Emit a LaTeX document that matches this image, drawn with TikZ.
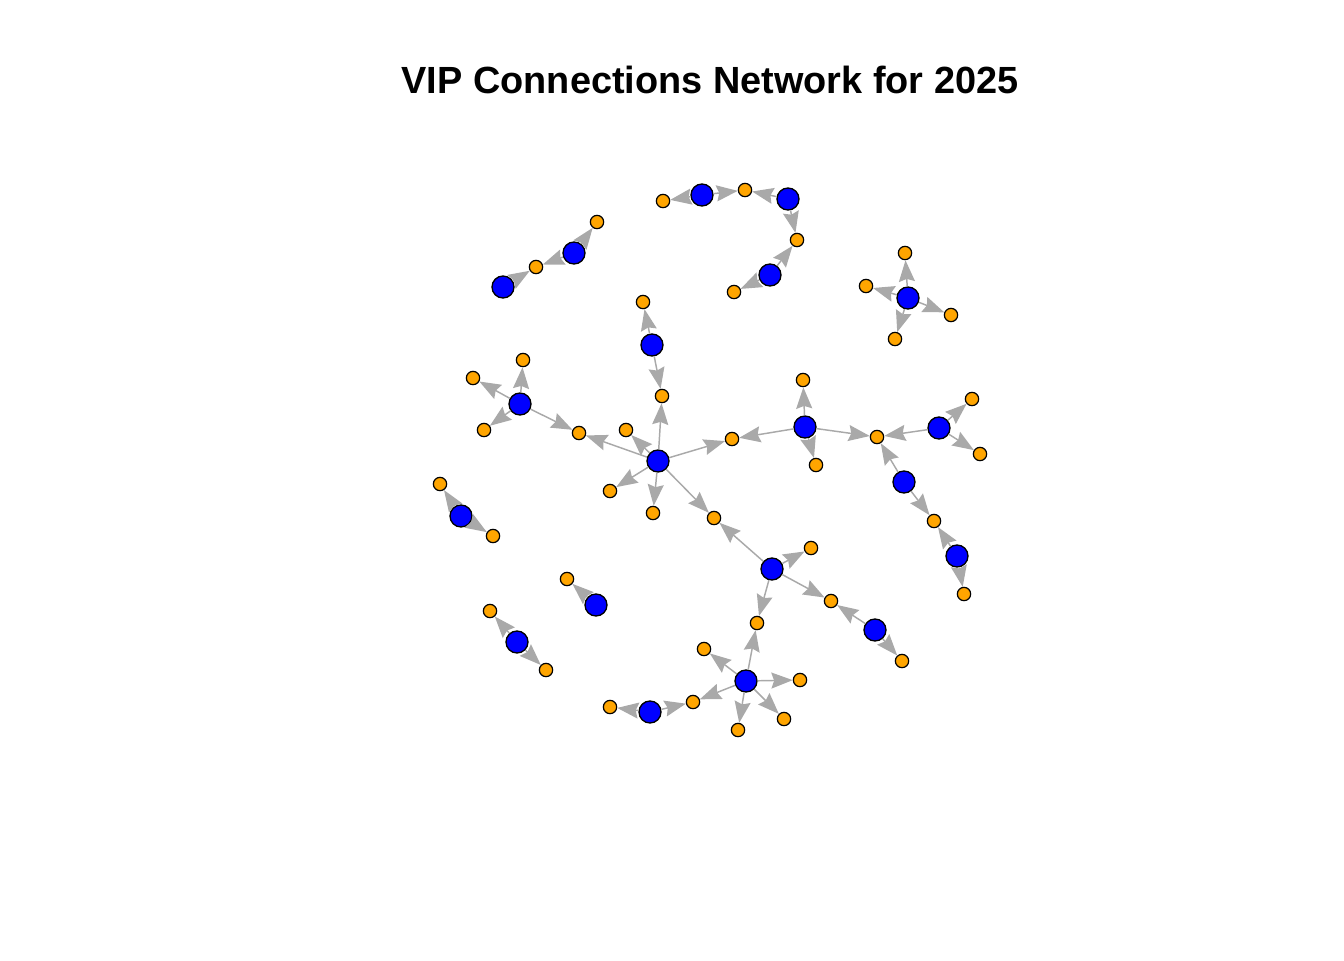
\documentclass[tikz,border=0pt]{standalone}
\usepackage{fontspec}
\setmainfont{Liberation Sans}
\usetikzlibrary{arrows.meta}
\definecolor{vipblue}{RGB}{0,0,255}
\definecolor{contactorange}{RGB}{255,165,0}
\definecolor{linkgray}{RGB}{169,169,169}
\begin{document}
\begin{tikzpicture}[
    x=0.75pt, y=-0.75pt,
    vip/.style={
        circle,
        draw=black,
        fill=vipblue,
        line width=1pt,
        minimum size=16.5pt,
        inner sep=0pt
    },
    contact/.style={
        circle,
        draw=black,
        fill=contactorange,
        line width=0.9pt,
        minimum size=10pt,
        inner sep=0pt
    },
    link/.style={
        draw=linkgray,
        line width=1.1pt,
        -{Stealth[length=16pt, width=12pt, inset=2pt]}
    }
]
    \useasboundingbox (0,0) rectangle (1344,960);
    \node[font=\bfseries\fontsize{28.4}{34}\selectfont] (title) at (710,80) {VIP Connections Network for 2025};

    % VIPs
    \foreach \name/\x/\y in {
        V1/503/287, V2/574/253, V3/702/195, V4/788/199, V5/770/275,
        V6/908/298, V7/652/345, V8/520/404, V9/658/461, V10/805/427,
        V11/939/428, V12/904/482, V13/957/556, V14/461/516, V15/596/605,
        V16/517/642, V17/772/569, V18/875/630, V19/746/681, V20/650/712%
    } {
        \node[vip] (\name) at (\x, \y) {};
    }
    % contacts
    \foreach \name/\x/\y in {
        C1/597/222, C2/536/267, C3/663/201, C4/745/190, C5/797/240,
        C6/734/292, C7/905/253, C8/866/286, C9/951/315, C10/895/339,
        C11/643/302, C12/662/396, C13/523/360, C14/473/378, C15/484/430,
        C16/579/433, C17/626/430, C18/732/439, C19/803/380, C20/816/465,
        C21/877/437, C22/972/399, C23/980/454, C24/934/521, C25/964/594,
        C26/440/484, C27/493/536, C28/610/491, C29/653/513, C30/714/518,
        C31/811/548, C32/567/579, C33/490/611, C34/546/670, C35/831/601,
        C36/757/623, C37/902/661, C38/704/649, C39/800/680, C40/610/707,
        C41/693/702, C42/738/730, C43/784/719%
    } {
        \node[contact] (\name) at (\x, \y) {};
    }
    % links
    \foreach \u/\v in {
        V1/C2, V2/C2, V2/C1, V3/C3, V3/C4, V4/C4, V4/C5, V5/C5, V5/C6,
        V6/C7, V6/C8, V6/C9, V6/C10, V7/C11, V7/C12,
        V8/C13, V8/C14, V8/C15, V8/C16,
        V9/C12, V9/C16, V9/C17, V9/C18, V9/C28, V9/C29, V9/C30,
        V10/C18, V10/C19, V10/C20, V10/C21,
        V11/C21, V11/C22, V11/C23, V12/C21, V12/C24, V13/C24, V13/C25,
        V14/C26, V14/C27, V15/C32, V16/C33, V16/C34,
        V17/C30, V17/C31, V17/C35, V17/C36, V18/C35, V18/C37,
        V19/C36, V19/C38, V19/C39, V19/C41, V19/C42, V19/C43,
        V20/C40, V20/C41%
    } {
        \draw[link] (\u) -- (\v);
    }

\end{tikzpicture}
\end{document}
